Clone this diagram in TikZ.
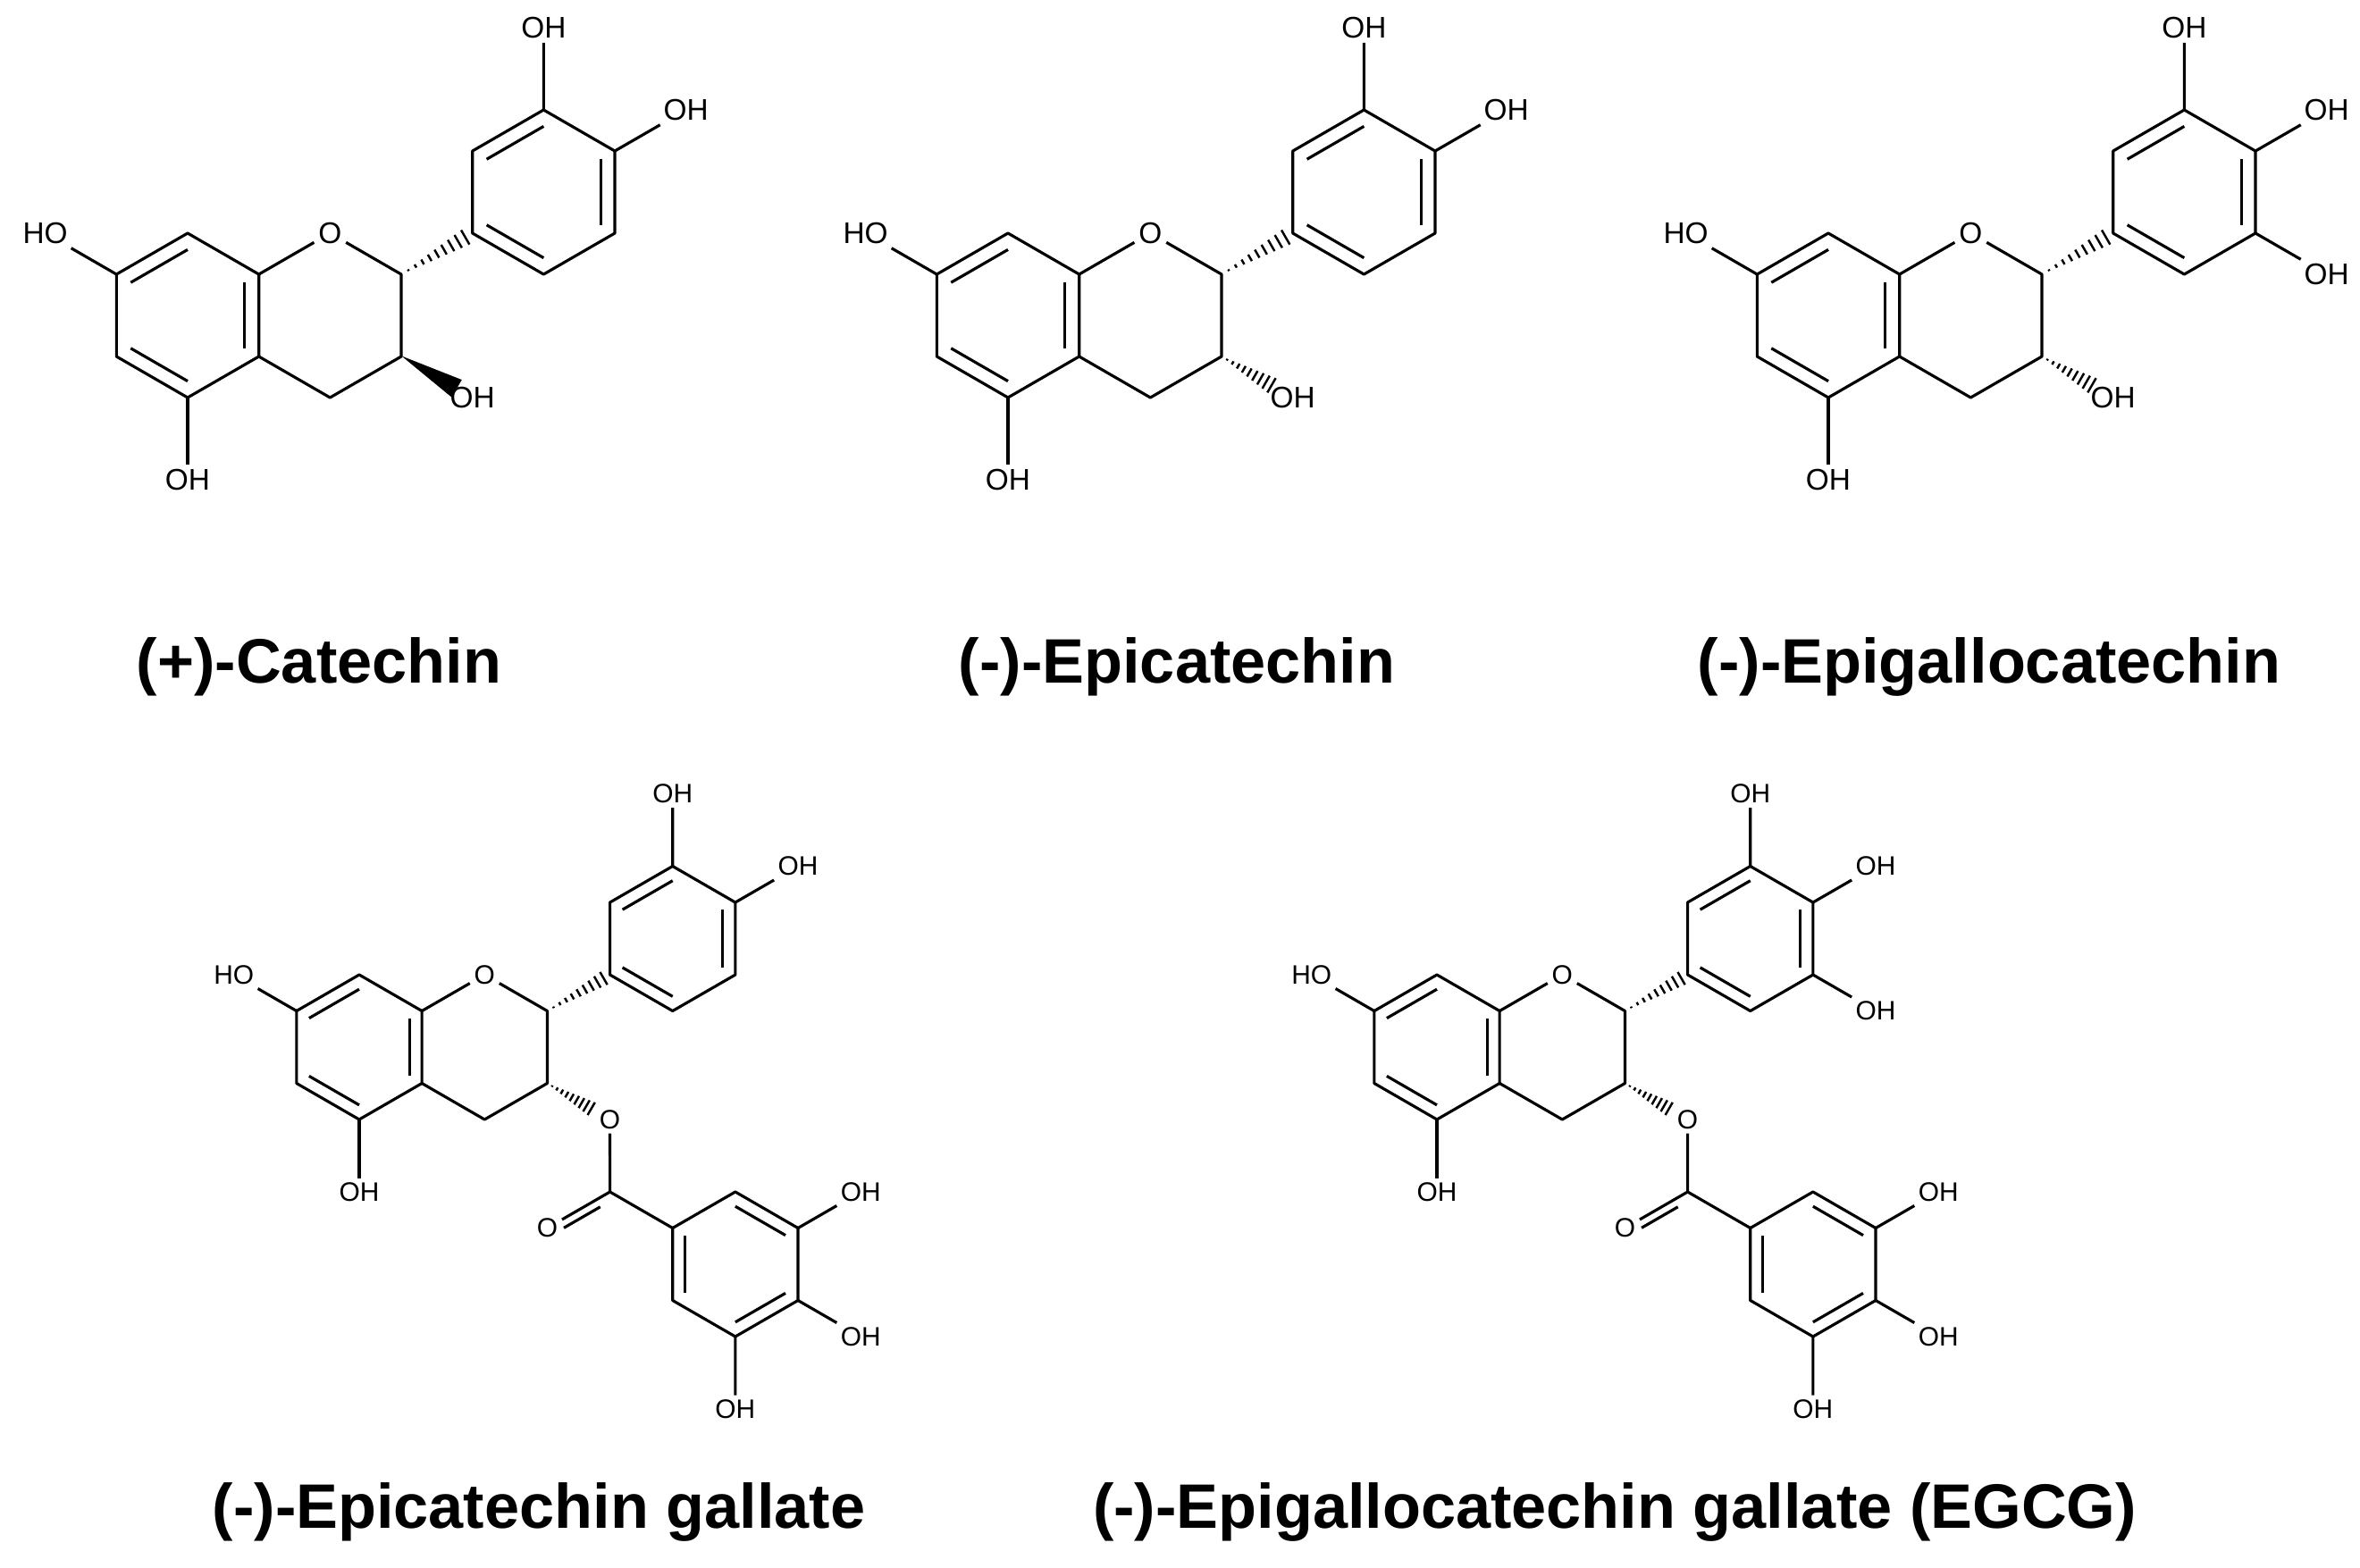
\documentclass[tikz,border=0pt]{standalone}
\usepackage{fontspec}
\setmainfont{Liberation Sans}
\usetikzlibrary{calc}
\tikzset{bond/.style={line width=0.9pt},
 lab/.style={inner sep=1.2pt},
 title/.style={font=\bfseries\fontsize{20}{24}\selectfont}}
\newcommand\dbl[3]{\draw[bond] ($(#1)!0.2!(#3)$) -- ($(#2)!0.2!(#3)$);}
\newcommand\hashb[3]{%
 \foreach \t in {0.1,0.2,...,0.95}{\pgfmathsetmacro\w{#3*\t}%
 \draw[line width=0.7pt] ($(#1)!\t!(#2)!\w pt!90:(#2)$) -- ($(#1)!\t!(#2)!\w pt!-90:(#2)$);}}
\newcommand\flav[7]{%
\begin{scope}[shift={(#1,#2)},scale=#3,lab/.append style={font=\fontsize{#7}{#7}\selectfont}]
 \coordinate (ca) at (0,0);
 \coordinate (a1) at (0,1); \coordinate (a2) at (-0.866,0.5); \coordinate (a3) at (-0.866,-0.5);
 \coordinate (a4) at (0,-1); \coordinate (a5) at (0.866,-0.5); \coordinate (a6) at (0.866,0.5);
 \node[lab] (O1) at (1.732,1) {O};
 \coordinate (c2) at (2.598,0.5); \coordinate (c3) at (2.598,-0.5); \coordinate (c4) at (1.732,-1);
 \coordinate (cb) at (4.33,1.5);
 \coordinate (b1) at (3.464,1); \coordinate (b2) at (3.464,2); \coordinate (b3) at (4.33,2.5);
 \coordinate (b4) at (5.196,2); \coordinate (b5) at (5.196,1); \coordinate (b6) at (4.33,0.5);
 \draw[bond,line join=round] (a1)--(a2)--(a3)--(a4)--(a5)--(a6)--cycle;
 \draw[bond,line join=round] (a6)--(O1)--(c2)--(c3)--(c4)--(a5);
 \dbl{a1}{a2}{ca}\dbl{a3}{a4}{ca}\dbl{a5}{a6}{ca}
 \draw[bond,line join=round] (b1)--(b2)--(b3)--(b4)--(b5)--(b6)--cycle;
 \dbl{b2}{b3}{cb}\dbl{b4}{b5}{cb}\dbl{b6}{b1}{cb}
 \hashb{c2}{b1}{3.2}
 \node[lab] (h7) at (-1.732,1) {HO}; \draw[bond] (a2)--(h7);
 \node[lab] (h5) at (0,-2) {OH}; \draw[bond] (a4)--(h5);
 \node[lab] (h3p) at (4.33,3.5) {OH}; \draw[bond] (b3)--(h3p);
 \node[lab] (h4p) at (6.062,2.5) {OH}; \draw[bond] (b4)--(h4p);
 \ifnum#4=1 \node[lab] (h5p) at (6.062,0.5) {OH}; \draw[bond] (b5)--(h5p);\fi
 \coordinate (o3) at (3.464,-1);
 \coordinate (o3e) at ($(c3)!0.78!(o3)$);
 \ifnum#6=1
  \node[lab] (eo) at (o3) {O};
  \hashb{c3}{o3e}{3.2}
  \coordinate (cc) at (3.464,-2);
  \node[lab] (co) at (2.598,-2.5) {O};
  \draw[bond] (eo)--(cc);
  \draw[bond] (cc)--(co);
  \draw[bond] ($(cc)!0.22!(co)!3.2pt!90:(co)$) -- ($(cc)!0.8!(co)!3.2pt!90:(co)$);
  \coordinate (cg) at (5.196,-3);
  \coordinate (g1) at (4.33,-2.5); \coordinate (g2) at (5.196,-2); \coordinate (g3) at (6.062,-2.5);
  \coordinate (g4) at (6.062,-3.5); \coordinate (g5) at (5.196,-4); \coordinate (g6) at (4.33,-3.5);
  \draw[bond] (cc)--(g1);
  \draw[bond,line join=round] (g1)--(g2)--(g3)--(g4)--(g5)--(g6)--cycle;
  \dbl{g6}{g1}{cg}\dbl{g2}{g3}{cg}\dbl{g4}{g5}{cg}
  \node[lab] (k3) at (6.928,-2) {OH}; \draw[bond] (g3)--(k3);
  \node[lab] (k4) at (6.928,-4) {OH}; \draw[bond] (g4)--(k4);
  \node[lab] (k5) at (5.196,-5) {OH}; \draw[bond] (g5)--(k5);
 \else
  \node[lab] (h3) at (o3) {OH};
  \ifnum#5=1
   \fill ($(c3)!0.2pt!90:(o3)$) -- ($(o3e)!3.5pt!90:(c3)$) -- ($(o3e)!3.5pt!-90:(c3)$) -- cycle;
  \else
   \hashb{c3}{o3e}{3.2}
  \fi
 \fi
\end{scope}}
\begin{document}
\begin{tikzpicture}
\fill[white] (0,0) rectangle (26.41,-17.55);
\useasboundingbox (0,0) rectangle (26.41,-17.55);
\flav{2.10}{-3.53}{0.92}{0}{1}{0}{9.5}
\flav{11.28}{-3.53}{0.92}{0}{0}{0}{9.5}
\flav{20.46}{-3.53}{0.92}{1}{0}{0}{9.5}
\flav{4.02}{-11.72}{0.81}{0}{0}{1}{8.5}
\flav{16.08}{-11.72}{0.81}{1}{0}{1}{8.5}
\node[title] (t1) at (3.57,-7.46) {(+)-Catechin};
\node[title] (t2) at (13.17,-7.46) {(-)-Epicatechin};
\node[title] (t3) at (22.26,-7.46) {(-)-Epigallocatechin};
\node[title] (t4) at (6.03,-16.92) {(-)-Epicatechin gallate};
\node[title] (t5) at (18.07,-16.92) {(-)-Epigallocatechin gallate (EGCG)};
\end{tikzpicture}
\end{document}
